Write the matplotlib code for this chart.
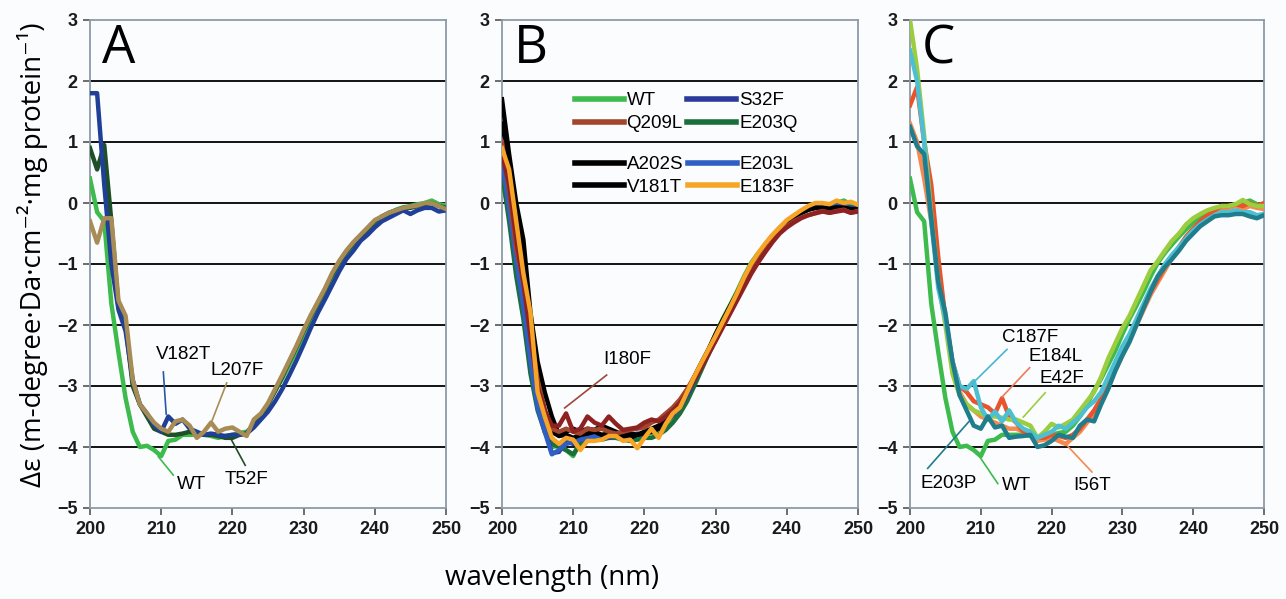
import numpy as np
import matplotlib
matplotlib.use("Agg")
import matplotlib.pyplot as plt

wl = list(range(200, 251))

# ---------------- data (Δε) ----------------
WT = [0.40, -0.15, -0.30, -1.65, -2.45, -3.20, -3.75, -4.00, -3.98, -4.05,
      -4.15, -3.90, -3.88, -3.80, -3.80, -3.80, -3.80, -3.82, -3.85, -3.82,
      -3.80, -3.77, -3.75, -3.65, -3.50, -3.30, -3.08, -2.88, -2.65, -2.42,
      -2.15, -1.90, -1.68, -1.45, -1.20, -0.98, -0.82, -0.68, -0.55, -0.43,
      -0.32, -0.24, -0.17, -0.11, -0.07, -0.05, -0.02, 0.00, 0.04, -0.02, -0.04]

# Panel A
A_V182T = [1.80, 1.80, 0.30, -1.00, -1.75, -2.10, -2.90, -3.30, -3.45, -3.65,
           -3.75, -3.50, -3.62, -3.55, -3.70, -3.75, -3.80, -3.78, -3.80, -3.82,
           -3.80, -3.80, -3.78, -3.68, -3.55, -3.42, -3.25, -3.05, -2.82, -2.58,
           -2.32, -2.05, -1.80, -1.58, -1.35, -1.12, -0.92, -0.78, -0.62, -0.52,
           -0.40, -0.30, -0.24, -0.18, -0.12, -0.18, -0.12, -0.08, -0.08, -0.14, -0.12]
A_T52F = [0.90, 0.55, 0.95, -0.30, -1.70, -2.00, -3.00, -3.30, -3.50, -3.70,
          -3.75, -3.80, -3.80, -3.78, -3.75, -3.78, -3.80, -3.80, -3.82, -3.85,
          -3.85, -3.80, -3.78, -3.62, -3.48, -3.30, -3.08, -2.85, -2.60, -2.36,
          -2.10, -1.86, -1.64, -1.42, -1.18, -0.97, -0.80, -0.66, -0.54, -0.42,
          -0.30, -0.22, -0.16, -0.12, -0.08, -0.08, -0.05, -0.02, 0.00, -0.05, -0.08]
A_L207F = [-0.30, -0.65, -0.25, -0.25, -1.60, -1.85, -2.90, -3.30, -3.45, -3.60,
           -3.70, -3.75, -3.58, -3.55, -3.65, -3.85, -3.75, -3.60, -3.75, -3.70,
           -3.68, -3.75, -3.82, -3.55, -3.45, -3.28, -3.05, -2.82, -2.58, -2.34,
           -2.08, -1.84, -1.62, -1.40, -1.15, -0.95, -0.78, -0.64, -0.52, -0.40,
           -0.28, -0.22, -0.16, -0.12, -0.08, -0.06, -0.04, 0.00, 0.00, -0.05, -0.10]

# Panel B
B_S32F = [0.90, 0.00, -0.90, -1.60, -2.50, -3.30, -3.70, -4.10, -4.08, -3.90,
          -3.95, -3.85, -3.82, -3.80, -3.82, -3.85, -3.80, -3.82, -3.80, -3.80,
          -3.78, -3.75, -3.70, -3.60, -3.48, -3.35, -3.15, -2.92, -2.68, -2.45,
          -2.22, -1.98, -1.75, -1.52, -1.28, -1.05, -0.86, -0.70, -0.55, -0.42,
          -0.30, -0.22, -0.15, -0.10, -0.06, -0.06, -0.08, -0.05, -0.05, -0.08, -0.08]
B_Q209L = [1.00, 0.20, -0.75, -1.30, -2.10, -2.90, -3.40, -3.70, -3.75, -3.70,
           -3.75, -3.78, -3.70, -3.72, -3.70, -3.75, -3.78, -3.75, -3.72, -3.70,
           -3.68, -3.60, -3.55, -3.45, -3.35, -3.22, -3.05, -2.85, -2.65, -2.45,
           -2.25, -2.02, -1.80, -1.58, -1.35, -1.14, -0.95, -0.78, -0.62, -0.48,
           -0.38, -0.30, -0.24, -0.20, -0.16, -0.13, -0.16, -0.13, -0.11, -0.16, -0.13]
B_E203Q = [0.50, -0.30, -1.20, -1.90, -2.80, -3.40, -3.75, -3.95, -4.00, -4.05,
           -4.12, -3.95, -3.90, -3.88, -3.88, -3.85, -3.85, -3.88, -3.90, -3.88,
           -3.85, -3.85, -3.80, -3.72, -3.60, -3.45, -3.25, -3.00, -2.74, -2.48,
           -2.24, -2.00, -1.76, -1.54, -1.30, -1.08, -0.88, -0.72, -0.57, -0.44,
           -0.32, -0.24, -0.16, -0.10, -0.06, -0.05, -0.07, -0.04, -0.04, -0.07, -0.08]
B_A202S = [1.70, 0.80, 0.00, -0.60, -1.80, -2.60, -3.10, -3.50, -3.80, -3.75,
           -3.70, -3.75, -3.70, -3.72, -3.65, -3.70, -3.75, -3.80, -3.78, -3.80,
           -3.75, -3.70, -3.65, -3.55, -3.45, -3.30, -3.10, -2.85, -2.62, -2.40,
           -2.15, -1.92, -1.70, -1.48, -1.24, -1.02, -0.84, -0.68, -0.53, -0.41,
           -0.30, -0.22, -0.16, -0.11, -0.08, -0.08, -0.10, -0.08, -0.08, -0.10, -0.10]
B_E203L = [0.70, -0.10, -0.95, -1.70, -2.60, -3.35, -3.75, -4.12, -4.05, -3.95,
           -3.92, -3.88, -3.85, -3.82, -3.85, -3.82, -3.80, -3.85, -3.82, -3.78,
           -3.80, -3.72, -3.68, -3.58, -3.45, -3.32, -3.12, -2.90, -2.66, -2.43,
           -2.20, -1.96, -1.73, -1.50, -1.26, -1.04, -0.85, -0.69, -0.54, -0.41,
           -0.30, -0.21, -0.14, -0.09, -0.06, -0.06, -0.07, -0.05, -0.06, -0.08, -0.09]
B_V181T = [1.30, 0.70, -0.20, -1.00, -2.00, -2.90, -3.40, -3.75, -3.82, -3.80,
           -3.85, -3.80, -3.78, -3.75, -3.80, -3.78, -3.80, -3.82, -3.85, -3.80,
           -3.78, -3.75, -3.70, -3.58, -3.45, -3.30, -3.10, -2.88, -2.64, -2.41,
           -2.17, -1.94, -1.71, -1.49, -1.25, -1.03, -0.85, -0.69, -0.54, -0.42,
           -0.31, -0.23, -0.16, -0.11, -0.08, -0.08, -0.09, -0.07, -0.08, -0.10, -0.10]
B_E183F = [0.90, 0.55, -0.30, -1.15, -1.80, -3.10, -3.50, -3.85, -3.95, -3.85,
           -3.88, -4.05, -3.90, -3.90, -3.88, -3.82, -3.82, -3.90, -3.88, -4.02,
           -3.85, -3.70, -3.85, -3.62, -3.45, -3.35, -3.10, -2.85, -2.62, -2.40,
           -2.18, -1.95, -1.72, -1.48, -1.22, -1.00, -0.82, -0.66, -0.52, -0.40,
           -0.28, -0.20, -0.12, -0.05, 0.00, 0.00, -0.02, 0.04, 0.00, 0.02, -0.03]
B_I180F = [0.80, 0.30, -0.60, -1.30, -2.20, -3.00, -3.40, -3.65, -3.65, -3.45,
           -3.75, -3.70, -3.50, -3.60, -3.65, -3.50, -3.62, -3.72, -3.70, -3.68,
           -3.60, -3.55, -3.58, -3.50, -3.40, -3.28, -3.10, -2.90, -2.70, -2.48,
           -2.26, -2.04, -1.82, -1.60, -1.38, -1.16, -0.97, -0.80, -0.64, -0.50,
           -0.40, -0.32, -0.25, -0.20, -0.17, -0.14, -0.16, -0.14, -0.12, -0.16, -0.14]

# Panel C
C_E203P = [1.25, 0.93, 0.80, -0.25, -1.30, -1.80, -2.60, -3.15, -3.40, -3.65,
           -3.70, -3.50, -3.68, -3.65, -3.85, -3.83, -3.82, -3.80, -4.00, -3.97,
           -3.90, -3.80, -3.83, -3.85, -3.65, -3.55, -3.58, -3.30, -3.05, -2.75,
           -2.50, -2.28, -2.00, -1.72, -1.45, -1.20, -1.05, -0.92, -0.78, -0.62,
           -0.50, -0.38, -0.30, -0.22, -0.20, -0.20, -0.18, -0.18, -0.22, -0.25, -0.20]
C_C187F = [2.50, 2.00, 1.00, -0.30, -1.40, -1.90, -2.60, -3.00, -3.05, -2.92,
           -3.35, -3.55, -3.42, -3.58, -3.40, -3.60, -3.70, -3.75, -3.85, -3.80,
           -3.75, -3.65, -3.70, -3.60, -3.50, -3.35, -3.25, -3.10, -2.85, -2.60,
           -2.35, -2.15, -1.90, -1.65, -1.40, -1.20, -1.00, -0.85, -0.72, -0.58,
           -0.45, -0.35, -0.27, -0.20, -0.15, -0.15, -0.12, -0.15, -0.15, -0.20, -0.18]
C_E184L = [1.60, 1.90, 1.00, 0.30, -0.90, -1.90, -2.60, -3.00, -3.10, -3.25,
           -3.30, -3.35, -3.45, -3.20, -3.50, -3.60, -3.75, -3.78, -3.85, -3.85,
           -3.80, -3.82, -3.85, -3.80, -3.70, -3.55, -3.40, -3.20, -2.95, -2.70,
           -2.45, -2.20, -1.95, -1.70, -1.45, -1.25, -1.05, -0.88, -0.72, -0.55,
           -0.42, -0.30, -0.20, -0.12, -0.05, -0.05, -0.02, -0.05, 0.00, -0.05, 0.00]
C_I56T = [1.30, 1.00, 0.40, -0.30, -1.20, -1.90, -2.70, -3.10, -3.30, -3.40,
          -3.50, -3.55, -3.60, -3.65, -3.70, -3.70, -3.75, -3.80, -3.90, -3.88,
          -3.85, -3.90, -3.95, -3.85, -3.75, -3.60, -3.45, -3.25, -3.00, -2.75,
          -2.50, -2.25, -2.00, -1.75, -1.50, -1.30, -1.10, -0.90, -0.75, -0.60,
          -0.45, -0.32, -0.22, -0.15, -0.10, -0.08, -0.05, -0.10, -0.05, -0.08, -0.10]
C_E42F = [3.00, 2.20, 1.10, -0.20, -1.30, -2.00, -2.80, -3.15, -3.30, -3.40,
          -3.45, -3.50, -3.50, -3.52, -3.55, -3.55, -3.60, -3.65, -3.85, -3.75,
          -3.62, -3.68, -3.62, -3.55, -3.40, -3.25, -3.10, -2.85, -2.55, -2.30,
          -2.05, -1.85, -1.60, -1.35, -1.10, -0.95, -0.78, -0.62, -0.50, -0.35,
          -0.25, -0.18, -0.12, -0.08, -0.05, -0.05, -0.02, 0.05, -0.02, -0.05, -0.05]

# ---------------- styling ----------------
FONT = ["Liberation Sans", "DejaVu Sans"]
LETTER_FONT = ["Open Sans", "DejaVu Sans"]
plt.rcParams["font.family"] = FONT
SPINE = "#8d9ba8"
BG = "#fbfcfe"
LW = 3.2

c_wt = "#3dbb4c"
fig = plt.figure(figsize=(12.86, 5.99), dpi=100, facecolor=BG)

W, H = 1286.0, 599.0
top_px, bot_px = 20.0, 508.0
panels_px = [(90, 446), (502, 858), (910, 1264)]
axes = []
for (l, r) in panels_px:
    ax = fig.add_axes([l / W, 1 - bot_px / H, (r - l) / W, (bot_px - top_px) / H])
    ax.set_facecolor(BG)
    ax.set_xlim(200, 250)
    ax.set_ylim(-5, 3)
    ax.set_xticks(range(200, 251, 10))
    ax.set_yticks(range(-5, 4))
    for y in range(-4, 3):
        ax.axhline(y, color="black", lw=1.3, zorder=1)
    for s in ax.spines.values():
        s.set_color(SPINE)
        s.set_linewidth(1.3)
    ax.tick_params(direction="out", length=5, width=1.2, color="#555555",
                   labelsize=13, pad=4)
    for lab in ax.get_xticklabels() + ax.get_yticklabels():
        lab.set_fontweight("bold")
        lab.set_color("#1a1a1a")
    axes.append(ax)

axA, axB, axC = axes

def ann(ax, text, xy_text, p0, p1, color):
    ax.plot([p0[0], p1[0]], [p0[1], p1[1]], color=color, lw=1.2, zorder=6)
    ax.text(xy_text[0], xy_text[1], text, ha="center", va="center",
            fontsize=13.5, zorder=7)

# ---- Panel A ----
axA.plot(wl, WT, color=c_wt, lw=LW, zorder=3)
axA.plot(wl, A_T52F, color="#1f4f27", lw=LW, zorder=4)
axA.plot(wl, A_V182T, color="#203f96", lw=LW, zorder=4)
axA.plot(wl, A_L207F, color="#a78c55", lw=LW, zorder=5)
axA.text(0.08, 0.94, "A", transform=axA.transAxes, ha="center", va="center",
         fontsize=38, family=LETTER_FONT)
ann(axA, "WT", (214.3, -4.62), (211.7, -4.46), (209.6, -4.16), c_wt)
ann(axA, "T52F", (222.0, -4.54), (221.8, -4.30), (219.9, -3.89), "#1f4f27")
ann(axA, "V182T", (213.1, -2.49), (210.3, -2.77), (210.7, -3.46), "#2b56a8")
ann(axA, "L207F", (220.6, -2.74), (219.2, -2.95), (216.9, -3.64), "#a78c55")

# ---- Panel B ----
lWT, = axB.plot(wl, WT, color=c_wt, lw=LW, zorder=3, label="WT")
lE203Q, = axB.plot(wl, B_E203Q, color="#1a6f3c", lw=LW, zorder=3, label="E203Q")
lS32F, = axB.plot(wl, B_S32F, color="#2b3a9c", lw=LW, zorder=3, label="S32F")
lE203L, = axB.plot(wl, B_E203L, color="#2f5ec4", lw=LW, zorder=3, label="E203L")
lA202S, = axB.plot(wl, B_A202S, color="black", lw=LW, zorder=3, label="A202S")
lV181T, = axB.plot(wl, B_V181T, color="black", lw=LW, zorder=3, label="V181T")
lQ209L, = axB.plot(wl, B_Q209L, color="#a3462c", lw=LW, zorder=3, label="Q209L")
axB.plot(wl, B_I180F, color="#8e2222", lw=LW, zorder=4)
lE183F, = axB.plot(wl, B_E183F, color="#f7a526", lw=LW, zorder=5, label="E183F")
axB.text(0.08, 0.94, "B", transform=axB.transAxes, ha="center", va="center",
         fontsize=38, family=LETTER_FONT)
ann(axB, "I180F", (217.6, -2.57), (214.7, -2.82), (208.8, -3.36), "#9a4a3a")

leg_kw = dict(ncol=2, frameon=False, handlelength=2.6,
              handletextpad=0.15, columnspacing=0.25, labelspacing=0.3,
              borderpad=0, borderaxespad=0, loc="upper left",
              prop={"family": FONT, "size": 13.5})
leg1 = axB.legend([lWT, lQ209L, lS32F, lE203Q], ["WT", "Q209L", "S32F", "E203Q"],
                  bbox_to_anchor=(0.205, 0.852), **leg_kw)
axB.add_artist(leg1)
leg2 = axB.legend([lA202S, lV181T, lE203L, lE183F], ["A202S", "V181T", "E203L", "E183F"],
                  bbox_to_anchor=(0.205, 0.721), **leg_kw)
for lg in (leg1, leg2):
    for h in lg.legend_handles:
        h.set_linewidth(4)

# ---- Panel C ----
axC.plot(wl, WT, color=c_wt, lw=LW, zorder=3)
axC.plot(wl, C_I56T, color="#f48a50", lw=LW, zorder=3)
axC.plot(wl, C_E184L, color="#e8532c", lw=LW, zorder=3)
axC.plot(wl, C_E42F, color="#9ccd3e", lw=LW, zorder=4)
axC.plot(wl, C_C187F, color="#4cc0d2", lw=LW, zorder=4)
axC.plot(wl, C_E203P, color="#1f7d8c", lw=LW, zorder=5)
axC.text(0.08, 0.94, "C", transform=axC.transAxes, ha="center", va="center",
         fontsize=38, family=LETTER_FONT)
ann(axC, "C187F", (216.9, -2.21), (213.7, -2.40), (208.9, -2.95), "#45b8d0")
ann(axC, "E184L", (220.5, -2.52), (216.9, -2.70), (213.0, -3.18), "#ef7a5a")
ann(axC, "E42F", (221.5, -2.87), (219.1, -3.11), (216.0, -3.51), "#9ccd3e")
ann(axC, "E203P", (205.4, -4.60), (202.5, -4.35), (208.5, -3.56), "#1f7d8c")
ann(axC, "WT", (215.1, -4.63), (212.4, -4.60), (209.9, -4.17), c_wt)
ann(axC, "I56T", (225.7, -4.63), (225.7, -4.41), (221.9, -3.94), "#f48a50")

# ---- shared labels ----
fig.text(33 / W, 1 - 255 / H, "Δε (m-degree·Da·cm⁻²·mg protein⁻¹)", rotation=90,
         ha="center", va="center", fontsize=20, family=LETTER_FONT)
fig.text(552 / W, 1 - 578 / H, "wavelength (nm)", ha="center", va="center",
         fontsize=20, family=LETTER_FONT)

fig.savefig("out.png", dpi=100, facecolor=BG)
